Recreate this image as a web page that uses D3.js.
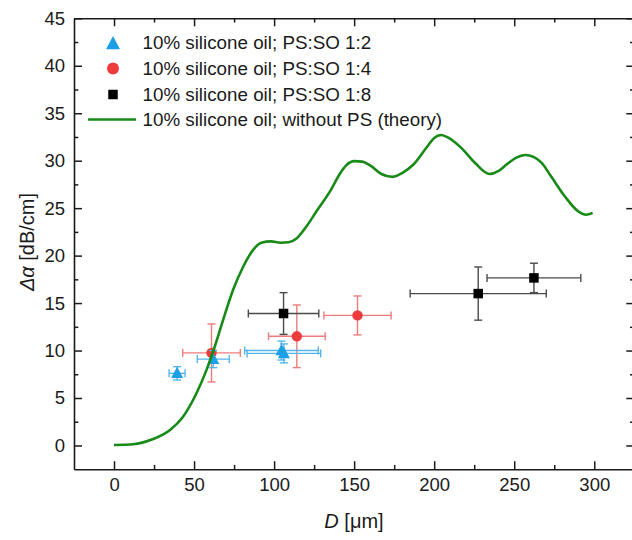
<!DOCTYPE html>
<html>
<head>
<meta charset="utf-8">
<script src="https://cdn.jsdelivr.net/npm/d3@7"></script>
<style>
  html, body { margin: 0; padding: 0; background: #fff; }
  svg { display: block; }
  text { font-family: "Liberation Sans", Arial, sans-serif; fill: #1a1a1a; }
</style>
</head>
<body>
<svg id="chart" width="632" height="540"></svg>
<script>
// Theoretical attenuation change, 10% silicone oil without PS
const theoryD  = [0, 12, 24, 35, 43, 51.5, 57.8, 62.9, 68.1, 74.4, 80.6, 86.9, 92, 98, 104, 109, 114, 120.3, 127, 135.4,
                  141, 145, 150, 155, 160, 167, 174, 180, 187, 195.7, 200, 204.3, 209, 217.2, 225.9, 234.5, 240,
                  245.2, 251, 257, 262, 267, 273.2, 281.8, 290.4, 294.8, 299];
const theoryDa = [0.05, 0.13, 0.65, 1.63, 3.0, 5.5, 7.96, 10.4, 13.2, 16.4, 18.8, 20.6, 21.35, 21.5, 21.35, 21.4, 21.8, 23.1, 24.8, 26.9,
                  28.6, 29.5, 29.95, 29.9, 29.5, 28.6, 28.3, 28.7, 29.6, 31.5, 32.4, 32.7, 32.4, 31.3, 29.7, 28.6, 28.9,
                  29.6, 30.3, 30.6, 30.4, 29.8, 28.3, 26.2, 24.6, 24.3, 24.5];

// Measured points: PS:SO 1:2
const s12D     = [39.4, 62, 104.6, 106.1];
const s12Da    = [7.6, 9.1, 10.0, 9.7];
const s12DErr  = [5, 10, 23, 23];
const s12DaErr = [0.7, 0.9, 1.0, 1.0];

// PS:SO 1:4
const s14D     = [60.9, 114.2, 152.1];
const s14Da    = [9.75, 11.5, 13.7];
const s14DErr  = [18, 17.7, 21];
const s14DaErr = [3.05, 3.3, 2.05];

// PS:SO 1:8
const s18D     = [105.9, 227.5, 262.3];
const s18Da    = [13.9, 16.0, 17.65];
const s18DErr  = [22, 42.5, 29.3];
const s18DaErr = [2.2, 2.8, 1.55];

const legendLabels = [
  "10% silicone oil; PS:SO 1:2",
  "10% silicone oil; PS:SO 1:4",
  "10% silicone oil; PS:SO 1:8",
  "10% silicone oil; without PS (theory)"
];

const xMajor = [0, 50, 100, 150, 200, 250, 300];
const yMajor = [0, 5, 10, 15, 20, 25, 30, 35, 40, 45];

const colors = {
  blue: "#1c9fe6", blueErr: "#52b6ec",
  red: "#ee3c3c", redErr: "#f27b7b",
  black: "#000000", blackErr: "#4a4a4a",
  green: "#178a17"
};

const svg = d3.select("#chart");
const plot = { left: 74, top: 18.3, right: 634.3, bottom: 469.2 };

const x = d3.scaleLinear().domain([-25, 325]).range([plot.left, plot.right]);
const y = d3.scaleLinear().domain([-2.5, 45]).range([plot.bottom, plot.top]);

const xMinor = d3.range(25, 325, 50);
const yMinor = d3.range(2.5, 45, 5);

// frame axes with inward ticks
function axisGroup(axisFn, scale, ticks, size, transform, labels) {
  const g = svg.append("g").attr("transform", transform)
    .call(axisFn(scale).tickValues(ticks).tickSize(size).tickSizeOuter(0)
      .tickPadding(labels ? 9 : 0).tickFormat(labels ? d3.format("d") : ""));
  g.select(".domain").attr("stroke", "#1a1a1a").attr("stroke-width", 1.6);
  g.selectAll(".tick line").attr("stroke", "#1a1a1a").attr("stroke-width", 1.5);
  g.selectAll(".tick text").style("font-size", "18.5px").attr("fill", "#1a1a1a");
  return g;
}
// bottom
axisGroup(d3.axisBottom, x, xMajor, -8, `translate(0,${plot.bottom})`, true);
axisGroup(d3.axisBottom, x, xMinor, -4.3, `translate(0,${plot.bottom})`, false).select(".domain").remove();
// top
axisGroup(d3.axisTop, x, xMajor, -8, `translate(0,${plot.top})`, false);
axisGroup(d3.axisTop, x, xMinor, -4.3, `translate(0,${plot.top})`, false).select(".domain").remove();
// left
axisGroup(d3.axisLeft, y, yMajor, -8, `translate(${plot.left},0)`, true);
axisGroup(d3.axisLeft, y, yMinor, -4.3, `translate(${plot.left},0)`, false).select(".domain").remove();
// right
axisGroup(d3.axisRight, y, yMajor, -8, `translate(${plot.right},0)`, false);
axisGroup(d3.axisRight, y, yMinor, -4.3, `translate(${plot.right},0)`, false).select(".domain").remove();

// axis titles
svg.append("text")
  .attr("x", 354).attr("y", 528).attr("text-anchor", "middle")
  .style("font-size", "20px")
  .html('<tspan font-style="italic">D</tspan> [μm]');

svg.append("text")
  .attr("transform", "translate(34,242) rotate(-90)")
  .attr("text-anchor", "middle")
  .style("font-size", "20px")
  .html('<tspan font-style="italic">Δα</tspan> [dB/cm]');

// error bars + markers
function series(D, Da, DErr, DaErr, errColor, drawMarker) {
  const g = svg.append("g");
  const cap = 4;
  D.forEach((d, i) => {
    const cx = x(d), cy = y(Da[i]);
    const x0 = x(d - DErr[i]), x1 = x(d + DErr[i]);
    const y0 = y(Da[i] - DaErr[i]), y1 = y(Da[i] + DaErr[i]);
    const eg = g.append("g").attr("stroke", errColor).attr("stroke-width", 1.4).attr("fill", "none");
    eg.append("line").attr("x1", x0).attr("x2", x1).attr("y1", cy).attr("y2", cy);
    eg.append("line").attr("x1", cx).attr("x2", cx).attr("y1", y0).attr("y2", y1);
    eg.append("line").attr("x1", x0).attr("x2", x0).attr("y1", cy - cap).attr("y2", cy + cap);
    eg.append("line").attr("x1", x1).attr("x2", x1).attr("y1", cy - cap).attr("y2", cy + cap);
    eg.append("line").attr("x1", cx - cap).attr("x2", cx + cap).attr("y1", y0).attr("y2", y0);
    eg.append("line").attr("x1", cx - cap).attr("x2", cx + cap).attr("y1", y1).attr("y2", y1);
  });
  D.forEach((d, i) => drawMarker(g, x(d), y(Da[i])));
}

const triangle = (g, cx, cy, s = 12) => g.append("path")
  .attr("d", `M${cx},${cy - s * 0.55}L${cx + s / 2},${cy + s * 0.4}L${cx - s / 2},${cy + s * 0.4}Z`)
  .attr("fill", colors.blue);
const circle = (g, cx, cy, r = 5.2) => g.append("circle")
  .attr("cx", cx).attr("cy", cy).attr("r", r).attr("fill", colors.red);
const square = (g, cx, cy, s = 9.5) => g.append("rect")
  .attr("x", cx - s / 2).attr("y", cy - s / 2).attr("width", s).attr("height", s).attr("fill", colors.black);

series(s14D, s14Da, s14DErr, s14DaErr, colors.redErr, circle);
series(s18D, s18Da, s18DErr, s18DaErr, colors.blackErr, square);
series(s12D, s12Da, s12DErr, s12DaErr, colors.blueErr, triangle);

// theory curve
const line = d3.line()
  .x((d, i) => x(theoryD[i]))
  .y(d => y(d))
  .curve(d3.curveMonotoneX);
svg.append("path")
  .attr("d", line(theoryDa))
  .attr("fill", "none")
  .attr("stroke", colors.green)
  .attr("stroke-width", 2.6);

// legend
const legendRows = [42.7, 68.5, 94.5, 119.5];
const lg = svg.append("g");
triangle(lg, 113, legendRows[0] + 1, 14);
circle(lg, 113, legendRows[1], 6);
square(lg, 113, legendRows[2], 9.5);
lg.append("line").attr("x1", 88).attr("x2", 136)
  .attr("y1", legendRows[3]).attr("y2", legendRows[3])
  .attr("stroke", colors.green).attr("stroke-width", 2.6);
legendLabels.forEach((t, i) => {
  lg.append("text").attr("x", 142.5).attr("y", legendRows[i]).attr("dy", "0.36em")
    .style("font-size", "18.8px").text(t);
});
</script>
</body>
</html>
